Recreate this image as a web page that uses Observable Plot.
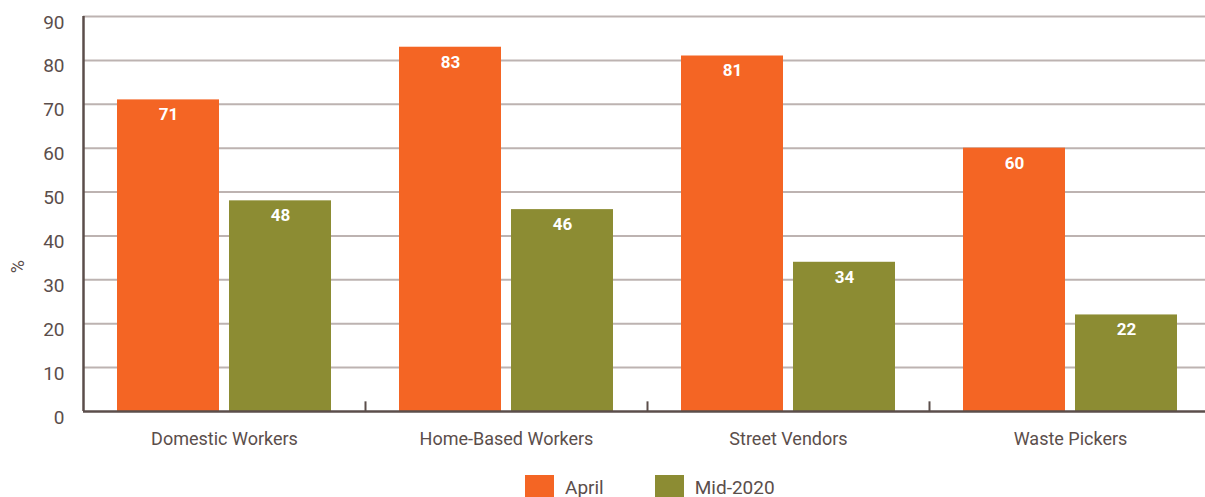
<!DOCTYPE html>
<html>
<head>
<meta charset="utf-8">
<script src="https://cdn.jsdelivr.net/npm/d3@7"></script>
<script src="https://cdn.jsdelivr.net/npm/@observablehq/plot@0.6"></script>
<style>
  html, body { margin: 0; padding: 0; background: #fff; }
  body { font-family: Roboto, "Liberation Sans", sans-serif; color: #5b4e4b; width: 1205px; overflow: hidden; }
  #legend { display: flex; align-items: center; margin-left: 525px; margin-top: 15px; font-size: 19px; color: #5b4e4b; }
  .sw { width: 29px; height: 25px; display: inline-block; margin-right: 11px; }
  .item { display: flex; align-items: center; margin-right: 51px; }
</style>
</head>
<body>
<div id="chart"></div>
<div id="legend"></div>
<script>
const categories = ["Domestic Workers", "Home-Based Workers", "Street Vendors", "Waste Pickers"];
const seriesNames = ["April", "Mid-2020"];
const aprilValues = [71, 83, 81, 60];
const midValues = [48, 46, 34, 22];
const colors = ["#f46524", "#8c8c33"];
const yTicks = [0, 10, 20, 30, 40, 50, 60, 70, 80, 90];

const rows = [];
categories.forEach((c, i) => {
  rows.push({category: c, series: seriesNames[0], value: aprilValues[i]});
  rows.push({category: c, series: seriesNames[1], value: midValues[i]});
});
const aprilRows = rows.filter(d => d.series === seriesNames[0]);
const midRows = rows.filter(d => d.series === seriesNames[1]);

const textColor = "#5b4e4b";
const plot = Plot.plot({
  width: 1205,
  height: 460,
  marginTop: 16,
  marginBottom: 49,
  marginLeft: 83,
  marginRight: -6,
  style: {fontFamily: "Roboto, sans-serif", fontSize: "18px", color: textColor, background: "#fff", overflow: "visible"},
  x: {domain: categories, padding: 0, label: null, tickSize: 0, tickPadding: 17},
  y: {domain: [0, 90], ticks: yTicks, label: null, tickSize: 0, tickPadding: 19},
  color: {domain: seriesNames, range: colors},
  marks: [
    Plot.ruleY(yTicks.filter(t => t > 0), {stroke: "#bdb3b1", strokeWidth: 2}),
    Plot.barY(aprilRows, {x: "category", y: "value", fill: "series", insetLeft: 34, insetRight: 146}),
    Plot.barY(midRows, {x: "category", y: "value", fill: "series", insetLeft: 146, insetRight: 34}),
    Plot.text(aprilRows, {x: "category", y: "value", text: d => String(d.value), dx: -56, dy: 15, fill: "#fff", fontWeight: "bold", fontSize: 17}),
    Plot.text(midRows, {x: "category", y: "value", text: d => String(d.value), dx: 56, dy: 15, fill: "#fff", fontWeight: "bold", fontSize: 17}),
    Plot.ruleX(categories.slice(1), {x: d => d, y1: 0, y2: 2.2, dx: -141, stroke: "#5b4e4b", strokeWidth: 2}),
    Plot.ruleY([0], {stroke: "#5b4e4b", strokeWidth: 2.5}),
    Plot.ruleX([categories[0]], {x: d => d, y1: 0, y2: 90, dx: -141, stroke: "#5b4e4b", strokeWidth: 2.5}),
    Plot.axisY({ticks: yTicks, tickSize: 0, tickPadding: 19, dy: 6, fill: textColor, label: null, fontSize: 19}),
    Plot.axisX({tickSize: 0, tickPadding: 21, fill: textColor, label: null, fontSize: 18}),
    Plot.text(["%"], {frameAnchor: "left", dx: -65, y: 31.5, rotate: -90, fill: textColor, fontSize: 18})
  ]
});
document.getElementById("chart").appendChild(plot);

const legend = document.getElementById("legend");
seriesNames.forEach((s, i) => {
  const item = document.createElement("div");
  item.className = "item";
  const sw = document.createElement("span");
  sw.className = "sw";
  sw.style.background = colors[i];
  const lab = document.createElement("span");
  lab.textContent = s;
  item.appendChild(sw);
  item.appendChild(lab);
  legend.appendChild(item);
});
</script>
</body>
</html>
